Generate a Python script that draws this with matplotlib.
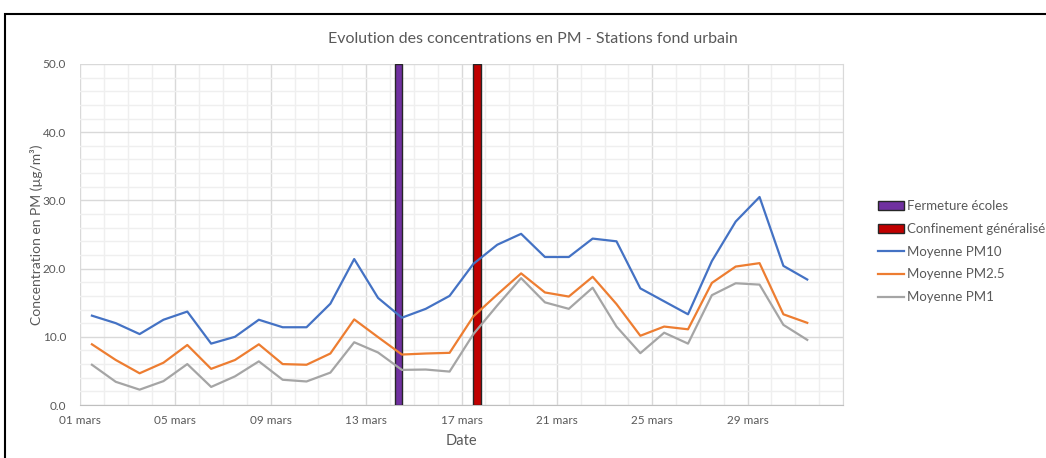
import matplotlib
matplotlib.use("Agg")
import matplotlib.pyplot as plt
from matplotlib.patches import Patch, Rectangle
from matplotlib.lines import Line2D
from matplotlib.ticker import MultipleLocator

plt.rcParams['font.family'] = ['Lato', 'DejaVu Sans']

# jours de mars (1..31)
jours = list(range(1, 32))
pm10 = [13.1, 12.0, 10.4, 12.5, 13.7, 9.0, 10.0, 12.5, 11.4, 11.4,
        14.85, 21.4, 15.7, 12.8, 14.1, 16.0, 20.7, 23.5, 25.1, 21.7,
        21.7, 24.4, 24.0, 17.1, 15.2, 13.3, 21.1, 26.9, 30.5, 20.4, 18.4]
pm25 = [8.9, 6.6, 4.65, 6.2, 8.8, 5.3, 6.6, 8.9, 6.0, 5.9,
        7.55, 12.55, 9.95, 7.4, 7.55, 7.65, 13.0, 16.2, 19.3, 16.5,
        15.9, 18.8, 14.8, 10.15, 11.5, 11.1, 17.9, 20.3, 20.8, 13.3, 12.05]
pm1 = [5.9, 3.4, 2.25, 3.5, 6.0, 2.65, 4.2, 6.4, 3.7, 3.45,
       4.75, 9.2, 7.7, 5.15, 5.2, 4.9, 10.4, 14.6, 18.6, 15.05,
       14.1, 17.2, 11.5, 7.6, 10.6, 9.0, 16.1, 17.85, 17.65, 11.75, 9.55]

jour_fermeture = 14
jour_confinement = 17
hauteur_barre = 50.0

tick_jours = [1, 5, 9, 13, 17, 21, 25, 29]
tick_labels = ["01 mars", "05 mars", "09 mars", "13 mars",
               "17 mars", "21 mars", "25 mars", "29 mars"]

W, H = 1046, 458
fig = plt.figure(figsize=(W / 100, H / 100), dpi=100)
fig.patch.set_facecolor("white")

# cadre noir autour du graphique
fig.patches.append(Rectangle((5 / W, -0.1), 1.2, (H - 14) / H + 0.1,
                             transform=fig.transFigure, fill=False,
                             edgecolor="black", linewidth=1.5))

ax = fig.add_axes([80 / W, (H - 405) / H, (843 - 80) / W, (405 - 64) / H])

txt = "#595959"
x = [j - 1 + 0.5 for j in jours]

bw = 0.3
ax.bar(jour_fermeture - 1 + 0.5 - bw, hauteur_barre, width=bw, align="edge",
       color="#7030A0", edgecolor="#262626", linewidth=1.0, zorder=3)
ax.bar(jour_confinement - 1 + 0.5, hauteur_barre, width=bw, align="edge",
       color="#C00000", edgecolor="#262626", linewidth=1.0, zorder=3)

ax.plot(x, pm10, color="#4472C4", lw=1.6, zorder=4)
ax.plot(x, pm25, color="#ED7D31", lw=1.6, zorder=4)
ax.plot(x, pm1, color="#A5A5A5", lw=1.6, zorder=4)

ax.set_xlim(0, 32)
ax.set_ylim(0, 50)
ax.set_xticks([j - 1 for j in tick_jours])
ax.set_xticklabels(tick_labels)
ax.xaxis.set_minor_locator(MultipleLocator(1))
ax.yaxis.set_major_locator(MultipleLocator(10))
ax.yaxis.set_minor_locator(MultipleLocator(2))
ax.set_yticklabels(["%.1f" % v for v in ax.get_yticks()])

ax.grid(which="major", color="#D9D9D9", lw=1.0, zorder=0)
ax.grid(which="minor", color="#EFEFEF", lw=1.0, zorder=0)
ax.set_axisbelow(True)
ax.tick_params(which="both", length=0, colors=txt, labelsize=8.5)
ax.tick_params(axis="x", pad=7)
ax.tick_params(axis="y", pad=10)

for s in ["top", "left"]:
    ax.spines[s].set_visible(False)
ax.spines["right"].set_color("#D9D9D9")
ax.spines["bottom"].set_color("#BFBFBF")

ax.set_title("Evolution des concentrations en PM - Stations fond urbain",
             color=txt, fontsize=11.5, pad=15, x=(533 - 80) / (843 - 80))
ax.set_xlabel("Date", color=txt, fontsize=10.5, labelpad=6)
ax.set_ylabel("Concentration en PM (µg/m³)", color=txt, fontsize=10, labelpad=0)

handles = [
    Patch(facecolor="#7030A0", edgecolor="#262626", linewidth=1.0),
    Patch(facecolor="#C00000", edgecolor="#262626", linewidth=1.0),
    Line2D([], [], color="#4472C4", lw=1.6),
    Line2D([], [], color="#ED7D31", lw=1.6),
    Line2D([], [], color="#A5A5A5", lw=1.6),
]
labels = ["Fermeture écoles", "Confinement généralisé",
          "Moyenne PM10", "Moyenne PM2.5", "Moyenne PM1"]
fig.legend(handles, labels, loc="upper left",
           bbox_to_anchor=(878 / W, (H - 200) / H), frameon=False,
           fontsize=9.5, labelcolor=txt, handlelength=2.0, handleheight=0.7,
           handletextpad=0.2, labelspacing=0.82, borderaxespad=0,
           borderpad=0)

fig.savefig("out.png", dpi=100)
